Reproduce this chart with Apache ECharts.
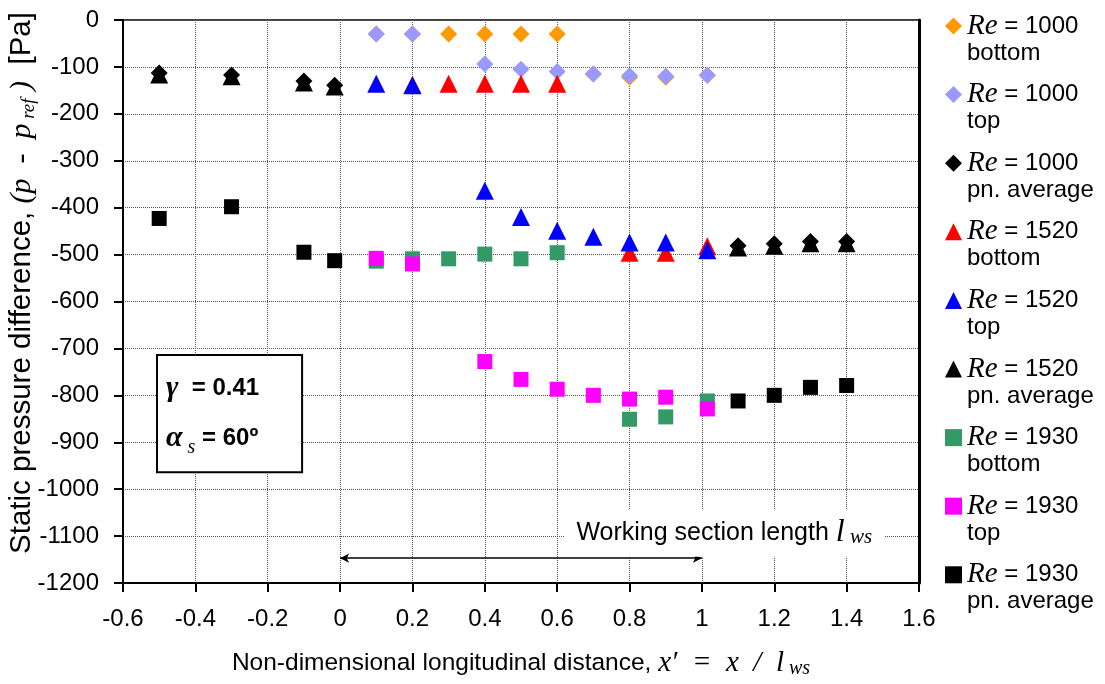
<!DOCTYPE html>
<html>
<head>
<meta charset="utf-8">
<script src="https://cdn.jsdelivr.net/npm/echarts@6/dist/echarts.min.js"></script>
<style>
  html, body { margin: 0; padding: 0; background: #fff; }
  #chart { width: 1105px; height: 684px; }
</style>
</head>
<body>
<div id="chart"></div>
<script>
// Non-dimensional position x' = x / l_ws and static pressure difference (p - p_ref) [Pa]
const re1000BottomX = [0.1, 0.2, 0.3, 0.4, 0.5, 0.6, 0.7, 0.8, 0.9, 1.015];
const re1000BottomY = [-30, -30, -30, -30, -30, -30, -115, -122, -122, -118];

const re1000TopX = [0.1, 0.2, 0.4, 0.5, 0.6, 0.7, 0.8, 0.9, 1.015];
const re1000TopY = [-30, -30, -94, -105, -110, -115, -119, -120, -118];

const re1000AvgX = [-0.5, -0.3, -0.1, -0.015, 1.1, 1.2, 1.3, 1.4];
const re1000AvgY = [-113, -117, -130, -139, -481, -477, -472, -472];

const re1520BottomX = [0.2, 0.3, 0.4, 0.5, 0.6, 0.8, 0.9, 1.015];
const re1520BottomY = [-138, -136, -136, -136, -136, -496, -496, -482];

const re1520TopX = [0.1, 0.2, 0.4, 0.5, 0.6, 0.7, 0.8, 0.9, 1.015];
const re1520TopY = [-136, -139, -364, -420, -449, -462, -474, -474, -491];

const re1520AvgX = [-0.5, -0.3, -0.1, -0.015, 1.1, 1.2, 1.3, 1.4];
const re1520AvgY = [-116, -120, -133, -142, -485, -481, -476, -476];

const re1930BottomX = [0.1, 0.2, 0.3, 0.4, 0.5, 0.6, 0.8, 0.9, 1.015];
const re1930BottomY = [-514, -509, -509, -499, -509, -496, -851, -846, -812];

const re1930TopX = [0.1, 0.2, 0.4, 0.5, 0.6, 0.7, 0.8, 0.9, 1.015];
const re1930TopY = [-508, -520, -728, -766, -787, -800, -808, -804, -829];

const re1930AvgX = [-0.5, -0.3, -0.1, -0.015, 1.1, 1.2, 1.3, 1.4];
const re1930AvgY = [-423, -398, -495, -513, -812, -800, -783, -779];

// Axis ranges and tick steps
const xMin = -0.6, xMax = 1.6, xStep = 0.2;
const yMin = -1200, yMax = 0, yStep = 100;

// Working-section span and its label
const wsStart = 0, wsEnd = 1, wsArrowY = -1147;
const wsLabelX = 0.62, wsLabelY = -1094;

// Parameter box corners (data units)
const boxX0 = -0.506, boxY0 = -714, boxX1 = -0.105, boxY1 = -964;

const SANS = "'Liberation Sans', Arial, sans-serif";
const SERIF = "'Liberation Serif', 'Times New Roman', serif";
const FS = 24;

const pairs = (xs, ys) => xs.map((x, i) => [x, ys[i]]);

const seriesDefs = [
  { re: '1000', pos: 'bottom',      x: re1000BottomX, y: re1000BottomY, color: '#FF9900', symbol: 'diamond',  size: 17 },
  { re: '1000', pos: 'top',         x: re1000TopX,    y: re1000TopY,    color: '#9999FF', symbol: 'diamond',  size: 17 },
  { re: '1000', pos: 'pn. average', x: re1000AvgX,    y: re1000AvgY,    color: '#000000', symbol: 'diamond',  size: 17 },
  { re: '1520', pos: 'bottom',      x: re1520BottomX, y: re1520BottomY, color: '#FF0000', symbol: 'triangle', size: 18 },
  { re: '1520', pos: 'top',         x: re1520TopX,    y: re1520TopY,    color: '#0000FF', symbol: 'triangle', size: 18 },
  { re: '1520', pos: 'pn. average', x: re1520AvgX,    y: re1520AvgY,    color: '#000000', symbol: 'triangle', size: 18 },
  { re: '1930', pos: 'bottom',      x: re1930BottomX, y: re1930BottomY, color: '#339966', symbol: 'rect',     size: 15 },
  { re: '1930', pos: 'top',         x: re1930TopX,    y: re1930TopY,    color: '#FF00FF', symbol: 'rect',     size: 15 },
  { re: '1930', pos: 'pn. average', x: re1930AvgX,    y: re1930AvgY,    color: '#000000', symbol: 'rect',     size: 15 }
];

const nameOf = d => 'Re = ' + d.re + ' ' + d.pos;

const series = seriesDefs.map((d, i) => ({
  name: nameOf(d),
  type: 'scatter',
  data: pairs(d.x, d.y),
  symbol: d.symbol,
  symbolSize: d.size,
  itemStyle: { color: d.color, opacity: 1 },
  z: 2 + i,
  silent: true
}));

// Double-headed arrow marking the working section
series[series.length - 1].markLine = {
  silent: true,
  symbol: ['arrow', 'arrow'],
  symbolSize: [7, 9],
  label: { show: false },
  lineStyle: { color: '#000', width: 1.5, type: 'solid' },
  data: [[{ coord: [wsStart, wsArrowY] }, { coord: [wsEnd, wsArrowY] }]]
};

const gridLine = { show: true, lineStyle: { color: '#555', width: 1, type: 'dotted' } };
const fmtX = v => String(Number(v.toFixed(1)));
const fmtY = v => String(Math.round(v));

const chart = echarts.init(document.getElementById('chart'), null, { renderer: 'canvas' });

chart.setOption({
  animation: false,
  backgroundColor: '#fff',
  textStyle: { fontFamily: SANS, color: '#000' },
  grid: {
    left: 123, right: 186, top: 20, bottom: 101,
    containLabel: false, outerBoundsMode: 'none',
    show: true, borderColor: '#000', borderWidth: 1.5, backgroundColor: 'transparent'
  },
  xAxis: {
    type: 'value', min: xMin, max: xMax, interval: xStep,
    axisLine: { show: true, onZero: false, lineStyle: { color: '#000', width: 2 } },
    axisTick: { show: true, length: 9, lineStyle: { color: '#000', width: 2 } },
    axisLabel: { color: '#000', fontFamily: SANS, fontSize: FS, margin: 24, formatter: fmtX },
    splitLine: gridLine,
    name: '{t|Non-dimensional longitudinal distance, }{m|x\u2032  =  x  /  l}{s| ws}',
    nameLocation: 'middle', nameGap: 64,
    nameTextStyle: {
      rich: {
        t: { fontFamily: SANS, fontSize: 24.5, color: '#000', lineHeight: 32 },
        m: { fontFamily: SERIF, fontStyle: 'italic', fontSize: 29, color: '#000', lineHeight: 32 },
        s: { fontFamily: SERIF, fontStyle: 'italic', fontSize: 20, color: '#000', lineHeight: 32, verticalAlign: 'bottom', padding: [10, 0, 0, 0] }
      }
    }
  },
  yAxis: [{
    type: 'value', min: yMin, max: yMax, interval: yStep,
    axisLine: { show: true, onZero: false, lineStyle: { color: '#000', width: 2 } },
    axisTick: { show: true, length: 9, lineStyle: { color: '#000', width: 2 } },
    axisLabel: { color: '#000', fontFamily: SANS, fontSize: FS, margin: 24, formatter: fmtY },
    splitLine: gridLine
  }, {
    type: 'value', min: yMin, max: yMax, interval: yStep, position: 'right',
    axisLine: { show: true, onZero: false, lineStyle: { color: '#000', width: 3 } },
    axisTick: { show: false }, axisLabel: { show: false }, splitLine: { show: false }
  }],
  legend: {
    orient: 'vertical', left: 945, top: -14.5, padding: 0,
    itemWidth: 17, itemHeight: 17, itemGap: -12.4,
    selectedMode: false,
    data: seriesDefs.map(nameOf),
    formatter: name => {
      const d = seriesDefs.find(s => nameOf(s) === name);
      return '{re|Re} = ' + d.re + '\n' + d.pos;
    },
    textStyle: {
      fontFamily: SANS, fontSize: FS, color: '#000', lineHeight: 27,
      padding: [27, 0, 0, 0],
      rich: { re: { fontFamily: SERIF, fontStyle: 'italic', fontSize: 29, lineHeight: 27, color: '#000' } }
    }
  },
  series
});

// Annotations placed in data coordinates
const px = (x, y) => chart.convertToPixel({ gridIndex: 0 }, [x, y]);
const b0 = px(boxX0, boxY0), b1 = px(boxX1, boxY1);
const wsP = px(wsLabelX, wsLabelY);

chart.setOption({
  graphic: [
    {
      // vertical axis title
      type: 'text', z: 60, silent: true,
      x: 22, y: 283, rotation: Math.PI / 2,
      style: {
        text: '{t|Static pressure difference, }{m|(p  -  p}{s| ref}{m| )}{t|  [Pa]}',
        align: 'center', verticalAlign: 'middle',
        rich: {
          t: { fontFamily: SANS, fontSize: 29.5, fill: '#000', lineHeight: 30 },
          m: { fontFamily: SERIF, fontStyle: 'italic', fontSize: 30, fill: '#000', lineHeight: 30 },
          s: { fontFamily: SERIF, fontStyle: 'italic', fontSize: 19, fill: '#000', lineHeight: 19, verticalAlign: 'middle', padding: [14, 0, 0, 0] }
        }
      }
    },
    {
      type: 'rect', z: 50, silent: true,
      shape: { x: b0[0], y: b0[1], width: b1[0] - b0[0], height: b1[1] - b0[1] },
      style: { fill: '#fff', stroke: '#000', lineWidth: 2 }
    },
    {
      type: 'text', z: 51, silent: true,
      x: b0[0] + 9, y: (b0[1] + b1[1]) / 2,
      style: {
        text: '{g|\u03b3}{e|  = 0.41}\n{g|\u03b1}{s| s}{e| = 60\u00ba}',
        verticalAlign: 'middle', align: 'left',
        rich: {
          g: { fontFamily: SERIF, fontStyle: 'italic', fontWeight: 'bold', fontSize: 30, lineHeight: 50, fill: '#000' },
          s: { fontFamily: SERIF, fontStyle: 'italic', fontSize: 20, lineHeight: 20, fill: '#000', verticalAlign: 'middle', padding: [18, 0, 0, 0] },
          e: { fontFamily: SANS, fontWeight: 'bold', fontSize: 24, lineHeight: 50, fill: '#000' }
        }
      }
    },
    {
      type: 'text', z: 51, silent: true,
      x: wsP[0], y: wsP[1],
      style: {
        text: '{t|Working section length }{l|l}{s| ws}',
        verticalAlign: 'middle', align: 'left',
        backgroundColor: '#fff',
        padding: [8, 12, 9, 12],
        rich: {
          t: { fontFamily: SANS, fontSize: 25, lineHeight: 30, fill: '#000' },
          l: { fontFamily: SERIF, fontStyle: 'italic', fontSize: 32, lineHeight: 30, fill: '#000' },
          s: { fontFamily: SERIF, fontStyle: 'italic', fontSize: 21, lineHeight: 30, fill: '#000', verticalAlign: 'bottom', padding: [10, 0, 0, 0] }
        }
      }
    }
  ]
});
</script>
</body>
</html>
